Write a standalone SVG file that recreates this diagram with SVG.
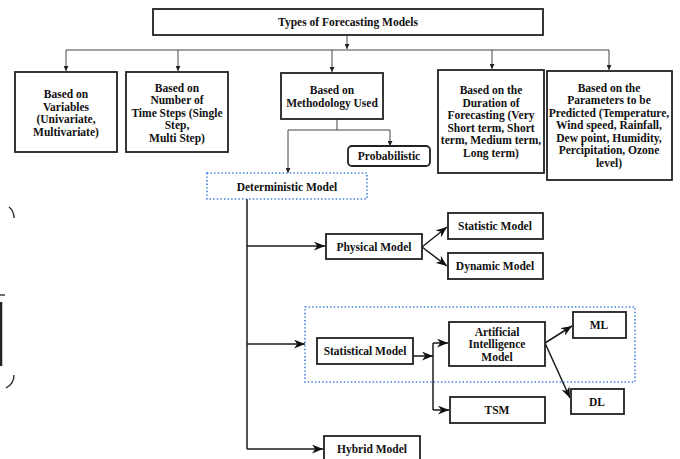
<svg xmlns="http://www.w3.org/2000/svg" width="680" height="459" viewBox="0 0 680 459">
<style>
text{font-family:"Liberation Serif","Times New Roman",serif;font-weight:bold;font-size:11.5px;fill:#111;text-anchor:middle;dominant-baseline:central}
.box{fill:#fff;stroke:#222;stroke-width:1.8}
.dot{fill:none;stroke:#3a7be0;stroke-width:1.6;stroke-dasharray:1.4 2.2}
.thin{fill:none;stroke:#444;stroke-width:1}
.thick{fill:none;stroke:#1a1a1a;stroke-width:1.5}
.art{fill:none;stroke:#222;stroke-width:1.3}
</style>
<defs>
<marker id="tri" viewBox="0 0 6 6" refX="6" refY="3" markerWidth="5" markerHeight="5" markerUnits="userSpaceOnUse" orient="auto">
<path d="M0,0 L6,3 L0,6 z" fill="#222"/>
</marker>
<marker id="stl" viewBox="0 0 10 8" refX="10" refY="4" markerWidth="11" markerHeight="9" markerUnits="userSpaceOnUse" orient="auto">
<path d="M0,0 L10,4 L0,8 L3,4 z" fill="#111"/>
</marker>
</defs>

<g id="edge-artifacts">
<path class="art" d="M9,207 Q14,211 14,218"/>
<path class="art" d="M0,295 H5"/>
<path d="M1,302 V366" stroke="#222" stroke-width="2.5"/>
<path class="art" d="M14,375 Q14,384 6,388"/>
</g>

<g id="connectors">
<path class="thin" d="M347,35 V49" marker-end="url(#tri)"/>
<path class="thin" d="M66,50 H609"/>
<path class="thin" d="M66,50 V71" marker-end="url(#tri)"/>
<path class="thin" d="M178,50 V71" marker-end="url(#tri)"/>
<path class="thin" d="M332,50 V72" marker-end="url(#tri)"/>
<path class="thin" d="M492,50 V69" marker-end="url(#tri)"/>
<path class="thin" d="M609,50 V70" marker-end="url(#tri)"/>
<path class="thin" d="M337,119 V130"/>
<path class="thin" d="M288,130 H390"/>
<path class="thin" d="M288,130 V173" marker-end="url(#tri)"/>
<path class="thin" d="M390,130 V146" marker-end="url(#tri)"/>
<path class="thick" d="M247,199 V449"/>
<path class="thick" d="M247,246 H325" marker-end="url(#stl)"/>
<path class="thick" d="M247,344 H305" marker-end="url(#stl)"/>
<path class="thick" d="M247,449 H323" marker-end="url(#stl)"/>
<path class="thick" d="M422,247 L447,227" marker-end="url(#stl)"/>
<path class="thick" d="M422,247 L447,266" marker-end="url(#stl)"/>
<path class="thick" d="M413,356 H433" marker-end="url(#stl)"/>
<path class="thick" d="M433,343 V410"/>
<path class="thick" d="M433,343 H448" marker-end="url(#stl)"/>
<path class="thick" d="M433,410 H449" marker-end="url(#stl)"/>
<path class="thick" d="M545,343 L572,326" marker-end="url(#stl)"/>
<path class="thick" d="M545,343 L570,398" marker-end="url(#stl)"/>
</g>

<g id="types">
<rect class="box" x="153" y="9" width="390" height="26"/>
<text x="348" y="22">Types of Forecasting Models</text>
</g>

<g id="variables">
<rect class="box" x="15" y="72" width="102" height="80"/>
<text x="66" y="94">Based on</text>
<text x="66" y="107">Variables</text>
<text x="66" y="119">(Univariate,</text>
<text x="66" y="132">Multivariate)</text>
</g>

<g id="timesteps">
<rect class="box" x="126" y="72" width="102" height="80"/>
<text x="177" y="88">Based on</text>
<text x="177" y="100">Number of</text>
<text x="177" y="113">Time Steps (Single</text>
<text x="177" y="125">Step,</text>
<text x="177" y="138">Multi Step)</text>
</g>

<g id="methodology">
<rect class="box" x="281" y="73" width="102" height="46"/>
<text x="332" y="90">Based on</text>
<text x="332" y="103">Methodology Used</text>
</g>

<g id="probabilistic">
<rect class="box" x="348" y="146" width="82" height="20" rx="4"/>
<text x="389" y="156">Probabilistic</text>
</g>

<g id="duration">
<rect class="box" x="438" y="70" width="106" height="103"/>
<text x="491" y="90">Based on the</text>
<text x="491" y="103">Duration of</text>
<text x="491" y="115">Forecasting (Very</text>
<text x="491" y="128">Short term, Short</text>
<text x="491" y="140">term, Medium term,</text>
<text x="491" y="153">Long term)</text>
</g>

<g id="parameters">
<rect class="box" x="547" y="71" width="125" height="109"/>
<text x="609" y="88">Based on the</text>
<text x="609" y="100">Parameters to be</text>
<text x="609" y="113">Predicted (Temperature,</text>
<text x="609" y="125">Wind speed, Rainfall,</text>
<text x="609" y="138">Dew point, Humidity,</text>
<text x="609" y="150">Percipitation, Ozone</text>
<text x="609" y="163">level)</text>
</g>

<g id="deterministic">
<rect class="dot" x="207" y="173" width="160" height="26"/>
<text x="287" y="187">Deterministic Model</text>
</g>

<g id="physical">
<rect class="box" x="326" y="234" width="96" height="25"/>
<text x="374" y="247">Physical Model</text>
</g>

<g id="statistic">
<rect class="box" x="448" y="213" width="95" height="26"/>
<text x="495" y="226">Statistic Model</text>
</g>

<g id="dynamic">
<rect class="box" x="448" y="253" width="95" height="26"/>
<text x="495" y="266">Dynamic Model</text>
</g>

<g id="statistical-group">
<rect class="dot" x="305" y="307" width="330" height="75"/>
</g>

<g id="statistical">
<rect class="box" x="317" y="338" width="96" height="26"/>
<text x="365" y="351">Statistical Model</text>
</g>

<g id="ai">
<rect class="box" x="449" y="322" width="96" height="44"/>
<text x="497" y="332">Artificial</text>
<text x="497" y="344">Intelligence</text>
<text x="497" y="357">Model</text>
</g>

<g id="tsm">
<rect class="box" x="450" y="397" width="95" height="26"/>
<text x="497" y="410">TSM</text>
</g>

<g id="ml">
<rect class="box" x="573" y="312" width="53" height="26"/>
<text x="599" y="325">ML</text>
</g>

<g id="dl">
<rect class="box" x="571" y="389" width="53" height="25"/>
<text x="597" y="402">DL</text>
</g>

<g id="hybrid">
<rect class="box" x="324" y="436" width="96" height="30"/>
<text x="372" y="449">Hybrid Model</text>
</g>
</svg>
